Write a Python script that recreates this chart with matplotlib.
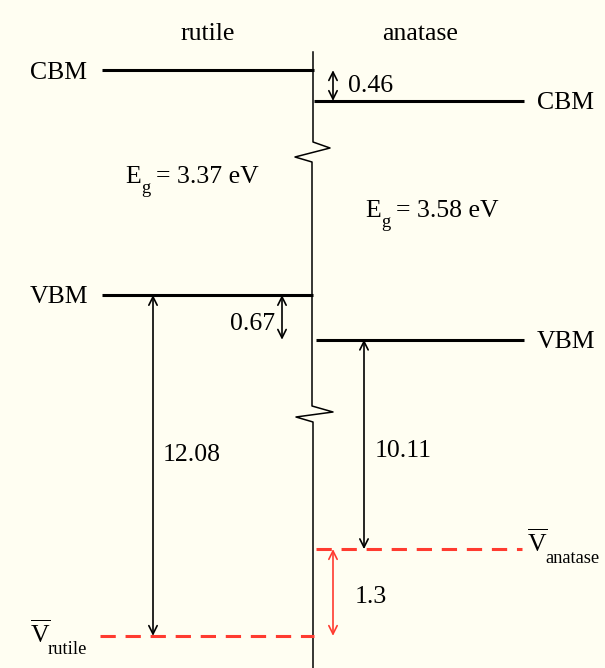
import matplotlib.pyplot as plt

plt.rcParams['font.family'] = 'Liberation Serif'
plt.rcParams['mathtext.fontset'] = 'custom'
plt.rcParams['mathtext.rm'] = 'Liberation Serif'
plt.rcParams['mathtext.it'] = 'Liberation Serif:italic'

# band edges in eV, rutile VBM taken as zero
phases = ['rutile', 'anatase']
gaps = [3.37, 3.58]
vbm_offset = 0.67                # rutile VBM above anatase VBM
vbar_depth = [12.08, 10.11]      # VBM above the average potential

vbm = [0.0, -vbm_offset]
cbm = [v + g for v, g in zip(vbm, gaps)]
vbar = [v - d for v, d in zip(vbm, vbar_depth)]
cbm_offset = cbm[0] - cbm[1]
vbar_offset = vbar[1] - vbar[0]

BG = '#fffef2'
RED = '#ff3b30'
FS = 18.5
SUB = 13.3
PX = 1 / 66.7     # eV per pixel row
CUT = 6.97        # energy taken out by the lower break


def yd(e):
    # broken energy axis: shift the deep levels up
    return e + CUT if e < -5 else e


def py(p):
    # pixel row -> axis units, for placing text
    return (295 - p) * PX


def arrow(x, e0, e1, color='k'):
    ax.annotate('', xy=(x, yd(e1)), xytext=(x, yd(e0)),
                arrowprops=dict(arrowstyle='<->,head_length=0.6,head_width=0.3',
                                color=color, lw=1.2, shrinkA=0, shrinkB=0,
                                mutation_scale=10))


def gap_label(x, p, gap):
    ax.text(x, py(p), 'E', **txt)
    ax.text(x + 16, py(p + 10), 'g', fontsize=SUB, va='baseline')
    ax.text(x + 31, py(p), f'= {gap:.2f} eV', **txt)


fig = plt.figure(figsize=(6.05, 6.68), dpi=100, facecolor=BG)
ax = fig.add_axes([0, 0, 1, 1])
ax.set_facecolor(BG)
ax.axis('off')
ax.set_xlim(0, 605)
ax.set_ylim(-373 * PX, 295 * PX)

# interface line with two break marks
zx = [313, 313, 330, 295, 312, 312, 333, 296, 313, 313]
zp = [52, 142, 148, 157, 162, 406, 412, 417, 422, 668]
ax.plot(zx, [py(p) for p in zp], color='k', lw=1.1)

# band edges
kw = dict(color='k', lw=2.2, solid_capstyle='butt')
ax.plot([102, 314], [cbm[0]] * 2, **kw)
ax.plot([314, 524], [cbm[1]] * 2, **kw)
ax.plot([102, 313], [vbm[0]] * 2, **kw)
ax.plot([316, 524], [vbm[1]] * 2, **kw)

dash = dict(color=RED, lw=2.2, ls=(0, (5, 3.2)), dash_capstyle='butt')
ax.plot([100, 314], [yd(vbar[0])] * 2, **dash)
ax.plot([316, 522], [yd(vbar[1])] * 2, **dash)

# offsets and depths
arrow(333, cbm[0], cbm[1])
arrow(282, vbm[0], vbm[1])
arrow(153, vbm[0], vbar[0])
arrow(364, vbm[1], vbar[1])
arrow(333, vbar[1], vbar[0], RED)

txt = dict(fontsize=FS, va='baseline')
ax.text(348, py(92), f'{cbm_offset:.2f}', **txt)
ax.text(275, py(330), f'{vbm_offset:.2f}', ha='right', **txt)
ax.text(163, py(461), f'{vbar_depth[0]:.2f}', **txt)
ax.text(375, py(457), f'{vbar_depth[1]:.2f}', **txt)
ax.text(355, py(603), f'{vbar_offset:.1f}', **txt)

# headers and level names
ax.text(208, py(40), phases[0], ha='center', **txt)
ax.text(420, py(40), phases[1], ha='center', **txt)
ax.text(30, py(79), 'CBM', **txt)
ax.text(30, py(303), 'VBM', **txt)
ax.text(537, py(109), 'CBM', **txt)
ax.text(537, py(348), 'VBM', **txt)

gap_label(125, 183, gaps[0])
gap_label(365, 217, gaps[1])

# average electrostatic potential labels
ax.text(30, py(643), r'$\overline{\mathrm{V}}$', **txt)
ax.text(48, py(654), phases[0], fontsize=SUB, va='baseline')
ax.text(527, py(552), r'$\overline{\mathrm{V}}$', **txt)
ax.text(545, py(563), phases[1], fontsize=SUB, va='baseline')

fig.savefig('out.png', dpi=100, facecolor=BG)
